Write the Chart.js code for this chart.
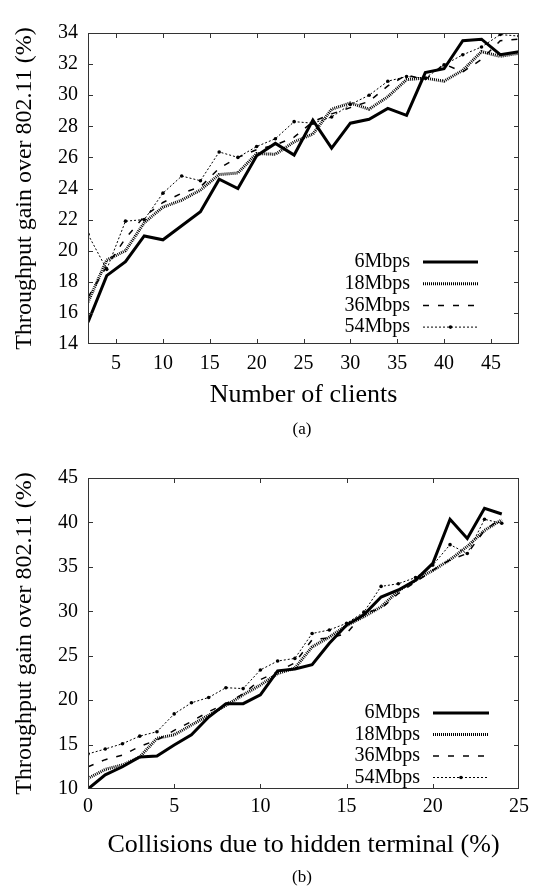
<!DOCTYPE html>
<html><head><meta charset="utf-8">
<script src="https://cdn.jsdelivr.net/npm/chart.js@4"></script>
<style>
html,body{margin:0;padding:0;background:#fff;}
#wrap{position:relative;width:541px;height:886px;overflow:hidden;background:#fff;}
canvas{position:absolute;left:0;}
.cap{position:absolute;width:100px;text-align:center;font-family:"Liberation Serif",serif;font-size:17px;line-height:20px;color:#000;}
</style></head><body>
<div id="wrap">
<canvas id="c1" width="541" height="443" style="top:0;width:541px;height:443px"></canvas>
<canvas id="c2" width="541" height="443" style="top:443px;width:541px;height:443px"></canvas>
<div class="cap" style="left:252px;top:419px">(a)</div>
<div class="cap" style="left:252px;top:867px">(b)</div>
</div>
<script>
// ---------- data ----------
const seriesNames = ['6Mbps', '18Mbps', '36Mbps', '54Mbps'];

// (a) throughput gain vs number of clients
const clients = [2,4,6,8,10,12,14,16,18,20,22,24,26,28,30,32,34,36,38,40,42,44,46,48];
const gainA6  = [15.4,18.4,19.3,20.95,20.7,21.6,22.5,24.6,24.0,26.1,26.9,26.15,28.4,26.6,28.2,28.45,29.15,28.7,31.45,31.7,33.5,33.6,32.6,32.8];
const gainA18 = [16.7,19.4,20.0,21.8,22.8,23.25,23.9,24.9,25.0,26.25,26.2,27.0,27.5,29.1,29.5,29.1,29.9,31.0,31.1,30.9,31.6,32.8,32.5,32.7];
const gainA36 = [17.0,19.0,20.8,22.2,23.1,23.7,24.1,25.3,26.0,26.5,26.8,27.3,28.3,28.8,29.2,29.6,30.6,31.3,31.0,32.0,31.5,32.3,33.5,33.6];
const gainA54 = [21.05,18.8,21.9,22.0,23.7,24.8,24.5,26.35,26.0,26.7,27.2,28.3,28.2,28.6,29.4,30.0,30.9,31.2,31.1,31.95,32.6,33.1,33.9,33.8];

// (b) throughput gain vs collisions due to hidden terminal
const collisions = [0,1,2,3,4,5,6,7,8,9,10,11,12,13,14,15,16,17,18,19,20,21,22,23,24];
const gainB6  = [10.0,11.6,12.5,13.6,13.7,14.95,16.1,18.1,19.6,19.6,20.6,23.3,23.5,24.0,26.4,28.45,29.6,31.6,32.4,33.5,35.4,40.35,38.2,41.6,40.95];
const gainB18 = [11.2,12.2,12.7,13.6,15.7,16.1,17.2,18.3,19.4,20.6,21.7,23.0,23.6,26.0,27.1,28.4,29.4,30.5,32.3,33.5,34.6,35.8,37.3,39.1,40.3];
const gainB36 = [12.5,13.3,13.8,14.8,15.5,16.6,17.6,18.7,19.6,20.7,22.3,23.2,24.2,26.8,27.0,27.5,29.8,30.3,32.0,33.3,34.6,35.8,36.5,39.1,40.5];
const gainB54 = [13.95,14.5,15.1,15.95,16.45,18.45,19.7,20.3,21.4,21.3,23.4,24.4,24.7,27.5,27.9,28.65,29.9,32.8,33.1,33.8,35.2,37.5,36.5,40.35,39.9];

// axis texts
const yTitle = 'Throughput gain over 802.11 (%)';
const xTitleA = 'Number of clients';
const xTitleB = 'Collisions due to hidden terminal (%)';

// ---------- styles ----------
const FONT = '"Liberation Serif", "Times New Roman", serif';
const lineStyles = [
  { borderWidth: 3,   borderDash: [],     pointRadius: 0 },
  { borderWidth: 3,   borderDash: [1, 1], pointRadius: 0 },
  { borderWidth: 1.5, borderDash: [6, 9], pointRadius: 0 },
  { borderWidth: 1,   borderDash: [2, 2], pointRadius: 1.8 }
];

function makeDatasets(xs, seriesList) {
  return seriesList.map((vals, i) => ({
    label: seriesNames[i],
    data: xs.map((x, k) => ({ x: x, y: vals[k] })),
    borderColor: '#000',
    backgroundColor: '#000',
    pointBackgroundColor: '#000',
    pointBorderWidth: 0,
    pointHoverRadius: 0,
    borderWidth: lineStyles[i].borderWidth,
    borderDash: lineStyles[i].borderDash,
    pointRadius: lineStyles[i].pointRadius,
    borderCapStyle: 'butt',
    borderJoinStyle: 'miter',
    tension: 0,
    fill: false
  }));
}

const framePlugin = {
  id: 'gpFrame',
  afterDraw(chart, args, opts) {
    const { ctx, chartArea: a } = chart;
    const xs = chart.scales.x, ys = chart.scales.y;
    ctx.save();
    ctx.setLineDash([]);
    ctx.strokeStyle = '#333';
    ctx.lineWidth = 1;
    ctx.strokeRect(Math.round(a.left) + 0.5, Math.round(a.top) + 0.5,
                   Math.round(a.right - a.left) - 1, Math.round(a.bottom - a.top) - 1);
    const L = 5;
    ctx.beginPath();
    xs.ticks.forEach(t => {
      const p = Math.round(xs.getPixelForValue(t.value)) + 0.5;
      if (p > a.left + 2 && p < a.right - 2) {
        ctx.moveTo(p, a.bottom); ctx.lineTo(p, a.bottom - L);
        ctx.moveTo(p, a.top); ctx.lineTo(p, a.top + L);
      }
    });
    ys.ticks.forEach(t => {
      const p = Math.round(ys.getPixelForValue(t.value)) + 0.5;
      if (p > a.top + 2 && p < a.bottom - 2) {
        ctx.moveTo(a.left, p); ctx.lineTo(a.left + L, p);
        ctx.moveTo(a.right, p); ctx.lineTo(a.right - L, p);
      }
    });
    ctx.stroke();

    // gnuplot-style legend: text right-aligned, sample to its right
    ctx.font = '20px ' + FONT;
    ctx.fillStyle = '#000';
    ctx.textAlign = 'right';
    ctx.textBaseline = 'middle';
    chart.data.datasets.forEach((ds, i) => {
      const yy = a.bottom - opts.firstRowUp + i * opts.rowH;
      ctx.fillText(ds.label, a.right - opts.textRight, yy);
      ctx.save();
      ctx.strokeStyle = '#000';
      ctx.lineWidth = ds.borderWidth;
      ctx.setLineDash(ds.borderDash || []);
      ctx.lineCap = 'butt';
      ctx.beginPath();
      ctx.moveTo(a.right - opts.sampleL, yy);
      ctx.lineTo(a.right - opts.sampleR, yy);
      ctx.stroke();
      if (ds.pointRadius > 0) {
        ctx.beginPath();
        ctx.arc(a.right - (opts.sampleL + opts.sampleR) / 2, yy, ds.pointRadius, 0, Math.PI * 2);
        ctx.fill();
      }
      ctx.restore();
    });
    ctx.restore();
  }
};

function makeChart(id, xs, seriesList, cfg) {
  return new Chart(document.getElementById(id), {
    type: 'line',
    data: { datasets: makeDatasets(xs, seriesList) },
    plugins: [framePlugin],
    options: {
      responsive: false,
      animation: false,
      devicePixelRatio: 1,
      layout: { padding: { top: cfg.padTop, right: 22, left: 0, bottom: 0 } },
      plugins: {
        legend: { display: false },
        tooltip: { enabled: false },
        gpFrame: cfg.legend
      },
      scales: {
        x: {
          type: 'linear',
          min: cfg.xMin, max: cfg.xMax,
          grid: { display: false, drawTicks: false },
          border: { display: false },
          ticks: {
            stepSize: cfg.xStep, includeBounds: false, autoSkip: false, maxRotation: 0,
            padding: cfg.xTickPad, color: '#000', font: { family: FONT, size: 20 }
          },
          title: {
            display: true, text: cfg.xTitle, color: '#000',
            font: { family: FONT, size: 26 }, padding: { top: 0, bottom: cfg.xTitlePad }
          },
          afterFit(s) { s.height = cfg.xAxisH; s.paddingLeft = 0; s.paddingRight = 0; }
        },
        y: {
          type: 'linear',
          min: cfg.yMin, max: cfg.yMax,
          grid: { display: false, drawTicks: false },
          border: { display: false },
          ticks: {
            stepSize: cfg.yStep, autoSkip: false, padding: 10,
            color: '#000', font: { family: FONT, size: 20 }
          },
          title: {
            display: true, text: yTitle, color: '#000',
            font: { family: FONT, size: 24 }, padding: { top: 10, bottom: 0 }
          },
          afterFit(s) { s.width = 88; s.paddingTop = 0; s.paddingBottom = 0; }
        }
      }
    }
  });
}

makeChart('c1', clients, [gainA6, gainA18, gainA36, gainA54], {
  padTop: 33, xMin: 2, xMax: 48, xStep: 5, yMin: 14, yMax: 34, yStep: 2,
  xTitle: xTitleA, xAxisH: 99, xTickPad: 8, xTitlePad: 32,
  legend: { textRight: 109, sampleL: 96, sampleR: 41, firstRowUp: 82, rowH: 21.7 }
});
makeChart('c2', collisions, [gainB6, gainB18, gainB36, gainB54], {
  padTop: 35, xMin: 0, xMax: 25, xStep: 5, yMin: 10, yMax: 45, yStep: 5,
  xTitle: xTitleB, xAxisH: 97, xTickPad: 6, xTitlePad: 25,
  legend: { textRight: 99, sampleL: 86, sampleR: 30, firstRowUp: 76, rowH: 21.5 }
});
</script>
</body></html>
